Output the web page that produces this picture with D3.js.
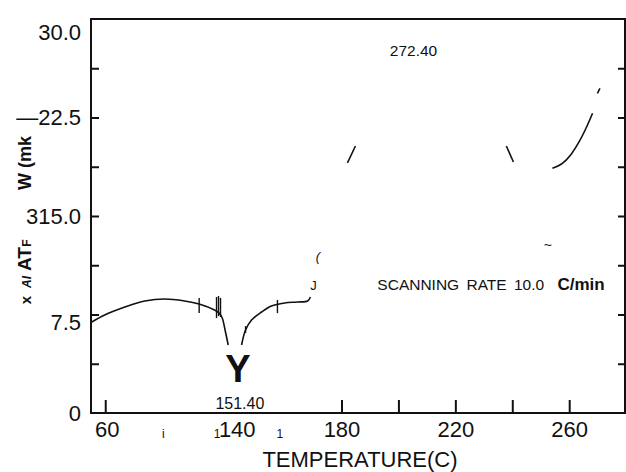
<!DOCTYPE html>
<html>
<head>
<meta charset="utf-8">
<script src="https://cdn.jsdelivr.net/npm/d3@7"></script>
<style>
  body { margin: 0; background: #fff; }
  text { font-family: "Liberation Sans", Arial, sans-serif; fill: #111; }
</style>
</head>
<body>
<script>
// DSC trace (temperature C, heat flow mW)
const segA_T  = [92.3, 96.8, 103.9, 110.9, 117.9, 124.9, 130.0, 135.4, 137.0, 138.1, 139.1, 140.2];
const segA_HF = [6.93, 7.46, 8.07, 8.53, 8.68, 8.53, 8.30, 7.84, 7.61, 7.23, 6.32, 5.18];
const segB_T  = [144.9, 146.3, 148.4, 151.9, 155.4, 160.0, 164.6, 168.1, 169.1];
const segB_HF = [5.18, 6.32, 7.08, 7.69, 8.15, 8.38, 8.45, 8.53, 8.83];
const segC_T  = [182.1, 184.9];
const segC_HF = [19.04, 20.33];
const segD_T  = [237.9, 240.4];
const segD_HF = [20.33, 19.11];
const segE_T  = [254.1, 257.6, 260.5, 263.5, 265.9, 268.2];
const segE_HF = [18.63, 19.01, 19.65, 20.66, 21.68, 22.82];
const segF_T  = [269.9, 270.8];
const segF_HF = [24.34, 24.72];

// noise spikes across the trace
const spikeT  = [130.0, 136.1, 136.8, 137.5, 146.3, 157.5];
const spikeLo = [7.61, 7.23, 7.38, 7.31, 6.09, 7.61];
const spikeHi = [8.76, 8.83, 8.91, 8.76, 6.62, 8.61];

// axes
const yMinorTicks = [3.75, 7.5, 11.25, 15, 18.75, 22.5, 26.25];
const yLabelVals  = [0, 7.5, 15, 22.5, 30];
const yLabelText  = ["0", "7.5", "315.0", "\u201422.5", "30.0"];
const xInnerTicks = [97, 180, 200, 220, 240, 260];
const xLabelVals  = [97.5, 117.2, 136.1, 143.2, 158.2, 180, 220, 260];
const xLabelText  = ["60", "i", "1", "140", "1", "180", "220", "260"];

const W = 626, H = 472;
const m = {left: 91, right: 1, top: 19, bottom: 59};

const svg = d3.select("body").append("svg")
  .attr("width", W).attr("height", H);

const x = d3.scaleLinear().domain([92, 279.6]).range([m.left, W - m.right]);
const y = d3.scaleLinear().domain([0, 30]).range([H - m.bottom, m.top]);

// frame
svg.append("rect")
  .attr("x", x.range()[0]).attr("y", m.top)
  .attr("width", x.range()[1] - x.range()[0]).attr("height", y(0) - m.top)
  .attr("fill", "none").attr("stroke", "#111").attr("stroke-width", 2);

// inner ticks
const gl = svg.append("g").attr("transform", `translate(${m.left},0)`)
  .call(d3.axisLeft(y).tickValues(yMinorTicks).tickSize(-8).tickFormat(""));
const gr = svg.append("g").attr("transform", `translate(${W - m.right},0)`)
  .call(d3.axisRight(y).tickValues(yMinorTicks).tickSize(-7).tickFormat(""));
const gb = svg.append("g").attr("transform", `translate(0,${y(0)})`)
  .call(d3.axisBottom(x).tickValues(xInnerTicks).tickSize(-13).tickFormat(""));
[gl, gr, gb].forEach(g => {
  g.select(".domain").remove();
  g.selectAll("line").attr("stroke", "#111").attr("stroke-width", 2);
});

// tick labels
const yl = svg.append("g").attr("transform", `translate(${m.left - 7},0)`)
  .call(d3.axisLeft(y).tickValues(yLabelVals).tickSize(0)
    .tickFormat((d, i) => yLabelText[i]));
yl.select(".domain").remove();
yl.selectAll("text")
  .attr("font-size", 22).attr("font-family", "Liberation Sans, Arial, sans-serif")
  .attr("fill", "#111")
  .attr("dy", d => d === 30 ? "0.95em" : d === 7.5 ? "0.7em" : "0.32em");

const xl = svg.append("g").attr("transform", `translate(0,${y(0) + 4})`)
  .call(d3.axisBottom(x).tickValues(xLabelVals).tickSize(0)
    .tickFormat((d, i) => xLabelText[i]));
xl.select(".domain").remove();
xl.selectAll("text")
  .attr("font-size", (d, i) => xLabelText[i].length > 1 ? 22 : 12)
  .attr("font-family", "Liberation Sans, Arial, sans-serif")
  .attr("fill", "#111")
  .attr("dy", (d, i) => xLabelText[i].length > 1 ? "0.78em" : "1.5em");

// axis titles
svg.append("text")
  .attr("x", 360).attr("y", 467)
  .attr("text-anchor", "middle").attr("font-size", 22)
  .text("TEMPERATURE(C)");

const ylab = [
  {t: "x", y: 300, s: 15},
  {t: "AI", y: 282, s: 12, it: true},
  {t: "AT", y: 259, s: 19},
  {t: "F", y: 243, s: 12},
  {t: "W (mk", y: 163, s: 18}
];
ylab.forEach(d => {
  svg.append("text")
    .attr("transform", `translate(31,${d.y}) rotate(-90)`)
    .attr("text-anchor", "middle")
    .attr("font-size", d.s).attr("font-weight", "bold")
    .attr("font-style", d.it ? "italic" : "normal")
    .text(d.t);
});

// trace
const line = d3.line().x(d => x(d[0])).y(d => y(d[1])).curve(d3.curveCatmullRom.alpha(0.5));
const segs = [[segA_T, segA_HF], [segB_T, segB_HF], [segC_T, segC_HF],
              [segD_T, segD_HF], [segE_T, segE_HF], [segF_T, segF_HF]];
svg.append("g").selectAll("path")
  .data(segs.map(s => s[0].map((t, i) => [t, s[1][i]])))
  .join("path")
  .attr("d", d => line(d))
  .attr("fill", "none").attr("stroke", "#111").attr("stroke-width", 1.6);

svg.append("g").selectAll("line")
  .data(spikeT)
  .join("line")
  .attr("x1", d => x(d)).attr("x2", d => x(d))
  .attr("y1", (d, i) => y(spikeLo[i])).attr("y2", (d, i) => y(spikeHi[i]))
  .attr("stroke", "#111").attr("stroke-width", 1.4);

// annotations
const ann = svg.append("g");
ann.append("text").attr("x", x(143.6)).attr("y", y(2.33))
  .attr("text-anchor", "middle").attr("font-size", 38).attr("font-weight", "bold").text("Y");
ann.append("text").attr("x", x(144.3)).attr("y", y(0.3))
  .attr("text-anchor", "middle").attr("font-size", 16).text("151.40");
ann.append("text").attr("x", x(205.3)).attr("y", y(27.2))
  .attr("text-anchor", "middle").attr("font-size", 15.5).text("272.40");
ann.append("text").attr("x", x(170.2)).attr("y", y(9.4))
  .attr("text-anchor", "middle").attr("font-size", 13).text("J");
ann.append("text").attr("x", x(171.7)).attr("y", y(11.6))
  .attr("text-anchor", "middle").attr("font-size", 13).attr("font-style", "italic").text("(");
ann.append("text").attr("x", x(252.5)).attr("y", y(12.4))
  .attr("text-anchor", "middle").attr("font-size", 14).text("~");
const sr = ann.append("text").attr("x", x(192.6)).attr("y", y(9.4)).attr("font-size", 15.5)
  .attr("word-spacing", 3);
sr.append("tspan").text("SCANNING RATE 10.0 ");
sr.append("tspan").attr("font-weight", "bold").attr("font-size", 17).attr("dx", 6).text("C/min");
</script>
</body>
</html>
